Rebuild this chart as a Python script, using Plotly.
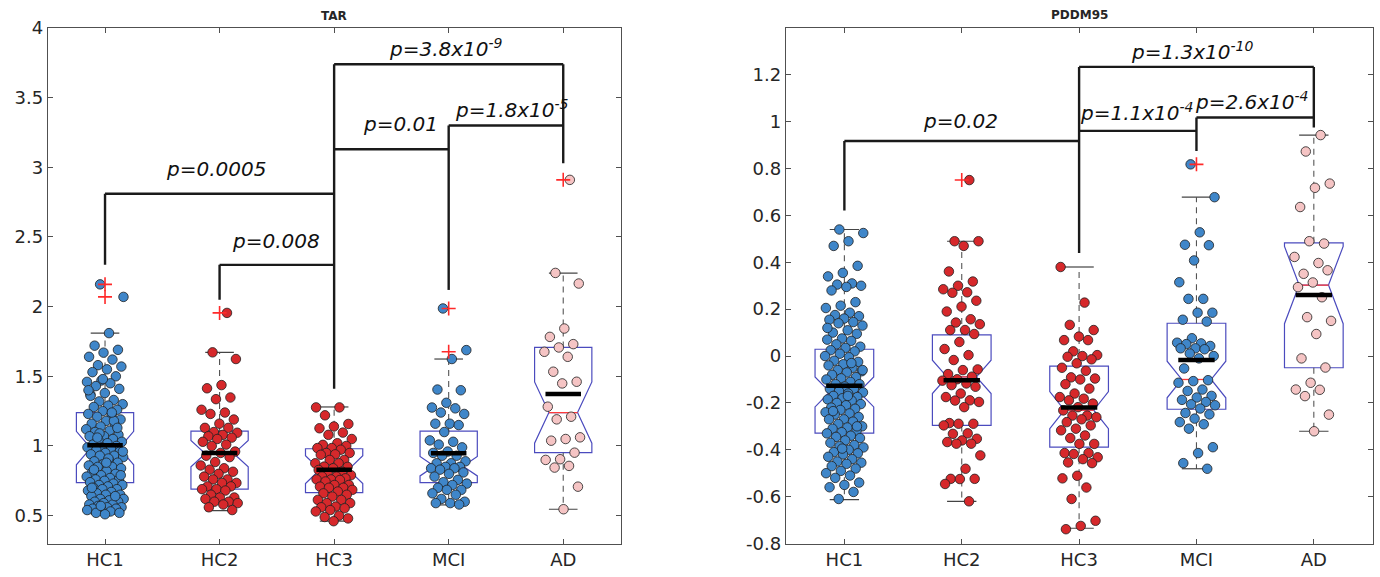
import plotly.graph_objects as go

# ---------------- data ----------------
categories = ['HC1', 'HC2', 'HC3', 'MCI', 'AD']

# TAR panel: individual subjects
tar_hc1 = [2.16, 2.07, 1.81, 1.72, 1.69, 1.67, 1.64, 1.62, 1.58, 1.57, 1.55, 1.53,
           1.50, 1.47, 1.46, 1.45, 1.43, 1.41, 1.38, 1.37, 1.33, 1.32, 1.30, 1.29,
           1.28, 1.26, 1.25, 1.23, 1.22, 1.21, 1.19, 1.18, 1.16, 1.15, 1.14, 1.12,
           1.11, 1.10, 1.08, 1.07, 1.07, 1.05, 1.04, 1.03, 1.02, 1.01, 1.00, 0.99,
           0.99, 0.98, 0.97, 0.96, 0.95, 0.94, 0.93, 0.93, 0.92, 0.90, 0.89, 0.88,
           0.87, 0.86, 0.85, 0.85, 0.84, 0.82, 0.81, 0.80, 0.79, 0.78, 0.77, 0.76,
           0.76, 0.75, 0.74, 0.73, 0.72, 0.72, 0.71, 0.70, 0.69, 0.69, 0.68, 0.67,
           0.66, 0.65, 0.65, 0.64, 0.63, 0.62, 0.62, 0.61, 0.60, 0.60, 0.59, 0.58,
           0.58, 0.57, 0.56, 0.56, 0.55, 0.55, 0.54, 0.54, 0.53, 0.52, 0.52, 0.51,
           1.36, 1.18, 1.09, 0.96, 0.91, 0.83, 1.13, 1.48, 1.40, 1.24, 1.06, 0.79,
           0.88, 0.70, 0.64, 0.57]
tar_hc2 = [1.955, 1.672, 1.624, 1.437, 1.414, 1.348, 1.336, 1.26, 1.24, 1.23, 1.19,
           1.16, 1.13, 1.13, 1.10, 1.095, 1.08, 1.07, 1.06, 1.05, 1.03, 1.01, 1.00,
           0.96, 0.95, 0.93, 0.92, 0.885, 0.86, 0.84, 0.83, 0.815, 0.80, 0.78, 0.76,
           0.76, 0.735, 0.735, 0.71, 0.71, 0.69, 0.69, 0.68, 0.65, 0.63, 0.63, 0.62,
           0.60, 0.60, 0.59, 0.58, 0.56, 0.54]
tar_hc3 = [1.277, 1.277, 1.22, 1.158, 1.14, 1.127, 1.096, 1.08, 1.05, 1.02, 1.008,
           1.00, 0.985, 0.985, 0.973, 0.95, 0.95, 0.94, 0.937, 0.90, 0.90, 0.876,
           0.876, 0.852, 0.85, 0.84, 0.828, 0.816, 0.80, 0.79, 0.78, 0.78, 0.768,
           0.76, 0.76, 0.756, 0.745, 0.72, 0.72, 0.708, 0.70, 0.70, 0.685, 0.673,
           0.66, 0.65, 0.637, 0.613, 0.613, 0.59, 0.59, 0.565, 0.56, 0.553, 0.54,
           0.53, 0.50, 0.49, 0.48, 0.46]
tar_mci = [1.987, 1.688, 1.624, 1.405, 1.40, 1.31, 1.276, 1.27, 1.24, 1.23, 1.16,
           1.16, 1.15, 1.10, 1.04, 1.03, 1.01, 0.99, 0.96, 0.95, 0.93, 0.93, 0.89,
           0.876, 0.876, 0.85, 0.85, 0.84, 0.84, 0.83, 0.81, 0.80, 0.78, 0.757,
           0.74, 0.73, 0.72, 0.70, 0.685, 0.685, 0.66, 0.65, 0.62, 0.60, 0.59, 0.59,
           0.58]
tar_ad = [2.91, 2.242, 2.166, 1.843, 1.783, 1.731, 1.707, 1.676, 1.64, 1.533, 1.461,
          1.449, 1.282, 1.21, 1.191, 1.062, 1.05, 1.038, 0.952, 0.905, 0.90, 0.857,
          0.845, 0.708, 0.546]

# TAR panel: box statistics
tar_q1 = [0.737, 0.69, 0.665, 0.737, 0.952]
tar_median = [0.985, 0.945, 0.83, 0.855, 1.24]
tar_q3 = [1.24, 1.107, 0.98, 1.107, 1.707]
tar_notch = [0.12, 0.095, 0.1, 0.07, 0.22]
tar_lower = [0.51, 0.536, 0.46, 0.577, 0.546]
tar_upper = [1.81, 1.672, 1.28, 1.624, 2.24]
tar_mean = [1.005, 0.95, 0.83, 0.947, 1.373]
tar_outliers = [[2.16, 2.07], [1.955], [], [1.987, 1.676], [2.91]]

# PDDM95 panel: individual subjects
pd_hc1 = [0.54, 0.525, 0.49, 0.47, 0.385, 0.355, 0.34, 0.31, 0.305, 0.30, 0.295,
          0.28, 0.23, 0.215, 0.205, 0.185, 0.175, 0.17, 0.16, 0.155, 0.145, 0.14,
          0.13, 0.11, 0.10, 0.095, 0.075, 0.07, 0.065, 0.05, 0.04, 0.035, 0.025,
          0.02, 0.01, 0.0, -0.005, -0.02, -0.025, -0.035, -0.04, -0.05, -0.06,
          -0.065, -0.07, -0.08, -0.09, -0.095, -0.10, -0.11, -0.12, -0.12, -0.13,
          -0.14, -0.14, -0.15, -0.155, -0.16, -0.17, -0.175, -0.18, -0.185, -0.19,
          -0.20, -0.205, -0.21, -0.22, -0.225, -0.23, -0.24, -0.245, -0.25, -0.26,
          -0.27, -0.27, -0.28, -0.29, -0.30, -0.305, -0.31, -0.32, -0.325, -0.33,
          -0.34, -0.345, -0.35, -0.36, -0.37, -0.38, -0.385, -0.39, -0.40, -0.41,
          -0.415, -0.42, -0.43, -0.44, -0.45, -0.455, -0.46, -0.47, -0.48, -0.49,
          -0.50, -0.51, -0.52, -0.54, -0.55, -0.56, -0.58, -0.61, -0.06, -0.17,
          -0.235, -0.30, -0.395, 0.12, -0.03]
pd_hc2 = [0.751, 0.49, 0.49, 0.47, 0.361, 0.318, 0.30, 0.285, 0.272, 0.27, 0.236,
          0.211, 0.19, 0.157, 0.143, 0.136, 0.111, 0.111, 0.094, 0.06, 0.03, 0.004,
          -0.017, -0.057, -0.06, -0.077, -0.088, -0.099, -0.105, -0.117, -0.124,
          -0.131, -0.16, -0.175, -0.189, -0.19, -0.196, -0.218, -0.286, -0.289,
          -0.289, -0.296, -0.33, -0.332, -0.353, -0.36, -0.367, -0.374, -0.374,
          -0.424, -0.481, -0.524, -0.524, -0.525, -0.546, -0.62]
pd_hc3 = [0.38, 0.228, 0.133, 0.111, 0.083, 0.068, 0.068, 0.02, 0.004, 0.0, -0.003,
          -0.014, -0.031, -0.05, -0.063, -0.091, -0.096, -0.10, -0.12, -0.139,
          -0.16, -0.175, -0.182, -0.189, -0.203, -0.218, -0.232, -0.254, -0.254,
          -0.261, -0.27, -0.282, -0.296, -0.31, -0.317, -0.339, -0.35, -0.375,
          -0.375, -0.414, -0.414, -0.418, -0.432, -0.44, -0.454, -0.457, -0.511,
          -0.522, -0.561, -0.61, -0.703, -0.725, -0.739]
pd_mci = [0.818, 0.678, 0.528, 0.475, 0.473, 0.408, 0.315, 0.244, 0.244, 0.185,
          0.185, 0.155, 0.147, 0.076, 0.057, 0.054, 0.051, 0.043, 0.033, 0.033,
          0.029, 0.011, 0.0, -0.01, -0.053, -0.103, -0.107, -0.114, -0.143, -0.149,
          -0.17, -0.177, -0.187, -0.196, -0.206, -0.21, -0.224, -0.243, -0.249,
          -0.267, -0.282, -0.291, -0.31, -0.389, -0.414, -0.457, -0.481]
pd_ad = [0.943, 0.873, 0.736, 0.718, 0.636, 0.48, 0.49, 0.423, 0.397, 0.351, 0.366,
         0.314, 0.294, 0.251, 0.166, 0.15, 0.094, -0.01, -0.049, -0.114, -0.143,
         -0.144, -0.171, -0.25, -0.321]

# PDDM95 panel: box statistics
pd_q1 = [-0.329, -0.296, -0.389, -0.227, -0.05]
pd_median = [-0.153, -0.089, -0.231, -0.10, 0.303]
pd_q3 = [0.029, 0.09, -0.043, 0.14, 0.483]
pd_notch = [0.064, 0.071, 0.079, 0.078, 0.165]
pd_lower = [-0.613, -0.62, -0.735, -0.481, -0.321]
pd_upper = [0.54, 0.49, 0.38, 0.678, 0.943]
pd_mean = [-0.127, -0.103, -0.22, -0.017, 0.261]
pd_outliers = [[], [0.751], [], [0.818], []]

# tick labels
tar_ticks = [0.5, 1, 1.5, 2, 2.5, 3, 3.5, 4]
tar_ticktext = ['0.5', '1', '1.5', '2', '2.5', '3', '3.5', '4']
pd_ticks = [-0.8, -0.6, -0.4, -0.2, 0, 0.2, 0.4, 0.6, 0.8, 1, 1.2]
pd_ticktext = ['-0.8', '-0.6', '-0.4', '-0.2', '0', '0.2', '0.4', '0.6', '0.8', '1', '1.2']

# significance labels
tar_pvals = ['p=0.0005', 'p=0.008', 'p=0.01', 'p=1.8x10<sup>-5</sup>', 'p=3.8x10<sup>-9</sup>']
pd_pvals = ['p=0.02', 'p=1.1x10<sup>-4</sup>', 'p=2.6x10<sup>-4</sup>', 'p=1.3x10<sup>-10</sup>']

# ---------------- styling / layout helpers ----------------
W, H = 1380, 577
BLUE = '#3F86C9'
RED = '#D6282B'
PINK = '#F5C4C4'
BOXC = '#4B4BBE'
group_colors = [BLUE, RED, RED, BLUE, PINK]
FONT = 'DejaVu Sans'
TXT = '#262626'

fig = go.Figure()


def jitter(i):
    return 0.165 * (2 * ((i * 0.6180339887 + 0.37) % 1.0) - 1)


def add_panel(xa, ya, groups, q1, med, q3, notch, lo, up, mean, outl):
    pos = [i + 1 for i in range(len(groups))]
    fig.add_trace(go.Box(
        x=pos, q1=q1, median=med, q3=q3, lowerfence=q1, upperfence=q3,
        notchspan=notch, notched=True, notchwidth=0.25, width=0.5, whiskerwidth=0,
        line=dict(color=BOXC, width=1.2), fillcolor='rgba(0,0,0,0)',
        boxpoints=False, xaxis=xa, yaxis=ya, showlegend=False, hoverinfo='skip'))
    mx, my = [], []
    for p, m in zip(pos, med):
        mx += [p - 0.125, p + 0.125, None]
        my += [m, m, None]
    fig.add_trace(go.Scatter(x=mx, y=my, mode='lines', line=dict(color='#FF3B3B', width=1.3),
                             xaxis=xa, yaxis=ya, showlegend=False, hoverinfo='skip'))
    wx, wy = [], []
    for p, a, b, c, d in zip(pos, q1, lo, q3, up):
        wx += [p, p, None, p, p, None]
        wy += [a, b, None, c, d, None]
    fig.add_trace(go.Scatter(x=wx, y=wy, mode='lines', line=dict(color='#555555', width=1.1, dash='6px,5px'),
                             xaxis=xa, yaxis=ya, showlegend=False, hoverinfo='skip'))
    cx, cy = [], []
    for p, b, d in zip(pos, lo, up):
        cx += [p - 0.125, p + 0.125, None, p - 0.125, p + 0.125, None]
        cy += [b, b, None, d, d, None]
    fig.add_trace(go.Scatter(x=cx, y=cy, mode='lines', line=dict(color='#444444', width=1.2),
                             xaxis=xa, yaxis=ya, showlegend=False, hoverinfo='skip'))
    for gi, (vals, col) in enumerate(zip(groups, group_colors)):
        xs = [pos[gi] + jitter(i + 7 * gi) for i in range(len(vals))]
        fig.add_trace(go.Scatter(
            x=xs, y=vals, mode='markers',
            marker=dict(size=9.5, color=col, line=dict(color='#202020', width=0.8)),
            xaxis=xa, yaxis=ya, showlegend=False, hoverinfo='skip'))
    ox, oy = [], []
    for p, lst in zip(pos, outl):
        for v in lst:
            ox.append(p)
            oy.append(v)
    fig.add_trace(go.Scatter(x=ox, y=oy, mode='markers',
                             marker=dict(symbol='cross-thin', size=10,
                                         line=dict(color='#FF2A2A', width=1.6)),
                             xaxis=xa, yaxis=ya, showlegend=False, hoverinfo='skip'))
    ex, ey = [], []
    for p, m in zip(pos, mean):
        ex += [p - 0.155, p + 0.155, None]
        ey += [m, m, None]
    fig.add_trace(go.Scatter(x=ex, y=ey, mode='lines', line=dict(color='black', width=4.5),
                             xaxis=xa, yaxis=ya, showlegend=False, hoverinfo='skip'))


def add_brackets(xa, ya, horiz, vert):
    bx, by = [], []
    for x1, x2, y in horiz:
        bx += [x1, x2, None]
        by += [y, y, None]
    for x, y1, y2 in vert:
        bx += [x, x, None]
        by += [y1, y2, None]
    fig.add_trace(go.Scatter(x=bx, y=by, mode='lines', line=dict(color='#1a1a1a', width=2.4),
                             xaxis=xa, yaxis=ya, showlegend=False, hoverinfo='skip'))


add_panel('x', 'y', [tar_hc1, tar_hc2, tar_hc3, tar_mci, tar_ad],
          tar_q1, tar_median, tar_q3, tar_notch, tar_lower, tar_upper, tar_mean, tar_outliers)
add_panel('x2', 'y2', [pd_hc1, pd_hc2, pd_hc3, pd_mci, pd_ad],
          pd_q1, pd_median, pd_q3, pd_notch, pd_lower, pd_upper, pd_mean, pd_outliers)

add_brackets('x', 'y',
             [(2, 3, 2.30), (1, 3, 2.81), (3, 4, 3.13), (4, 5, 3.30), (3, 5, 3.74)],
             [(1, 2.30, 2.81), (2, 2.05, 2.30), (3, 1.41, 3.74), (4, 2.12, 3.30), (5, 3.03, 3.74)])
add_brackets('x2', 'y2',
             [(1, 3, 0.918), (3, 4, 0.961), (4, 5, 1.018), (3, 5, 1.234)],
             [(1, 0.621, 0.918), (3, 0.44, 1.234), (4, 0.875, 1.018), (5, 0.975, 1.234)])

annotations = []
tar_lab_pos = [(1.97, 2.99), (2.49, 2.47), (3.58, 3.31), (4.55, 3.42), (3.98, 3.86)]
pd_lab_pos = [(1.99, 1.005), (3.49, 1.04), (4.47, 1.09), (3.97, 1.30)]
for txt, (x, y) in zip(tar_pvals, tar_lab_pos):
    annotations.append(dict(x=x, y=y, xref='x', yref='y', text='<i>' + txt + '</i>',
                            showarrow=False, font=dict(family=FONT, size=20, color='#111'),
                            xanchor='center', yanchor='middle'))
for txt, (x, y) in zip(pd_pvals, pd_lab_pos):
    annotations.append(dict(x=x, y=y, xref='x2', yref='y2', text='<i>' + txt + '</i>',
                            showarrow=False, font=dict(family=FONT, size=20, color='#111'),
                            xanchor='center', yanchor='middle'))

dx1 = [47.75 / W, 620.5 / W]
dx2 = [785.7 / W, 1372.5 / W]
dy = [1 - 543.5 / H, 1 - 28 / H]

annotations.append(dict(x=(dx1[0] + dx1[1]) / 2, y=1 - 16 / H, xref='paper', yref='paper',
                        text='<b>TAR</b>', showarrow=False,
                        font=dict(family=FONT, size=12, color=TXT), xanchor='center', yanchor='middle'))
annotations.append(dict(x=(dx2[0] + dx2[1]) / 2, y=1 - 15 / H, xref='paper', yref='paper',
                        text='<b>PDDM95</b>', showarrow=False,
                        font=dict(family=FONT, size=12, color=TXT), xanchor='center', yanchor='middle'))

axis_common = dict(showgrid=False, zeroline=False, showline=True, linecolor='#505050',
                   linewidth=1, mirror='ticks', ticks='inside', ticklen=5, tickcolor='#505050',
                   tickfont=dict(family=FONT, size=18, color=TXT), automargin=False)

fig.update_layout(
    width=W, height=H,
    margin=dict(l=0, r=0, t=0, b=0),
    paper_bgcolor='white', plot_bgcolor='white',
    showlegend=False,
    boxmode='overlay',
    annotations=annotations,
    xaxis=dict(domain=dx1, range=[0.5, 5.5], tickvals=[1, 2, 3, 4, 5], ticktext=categories,
               anchor='y', **axis_common),
    yaxis=dict(domain=dy, range=[0.3, 4.0], tickvals=tar_ticks, ticktext=tar_ticktext,
               anchor='x', **axis_common),
    xaxis2=dict(domain=dx2, range=[0.5, 5.5], tickvals=[1, 2, 3, 4, 5], ticktext=categories,
                anchor='y2', **axis_common),
    yaxis2=dict(domain=dy, range=[-0.8, 1.4], tickvals=pd_ticks, ticktext=pd_ticktext,
                anchor='x2', **axis_common),
)

fig.write_html('out.html', config={'displayModeBar': False},
               post_script="document.body.style.margin='0px';")
